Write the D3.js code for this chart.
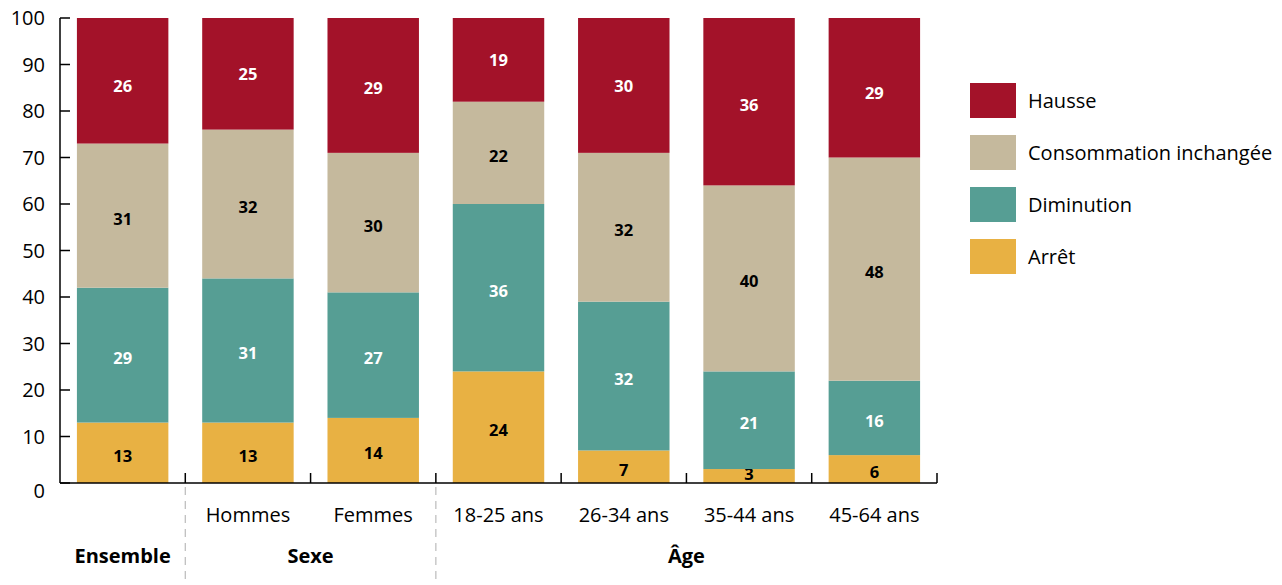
<!DOCTYPE html>
<html><head><meta charset="utf-8">
<script src="https://cdn.jsdelivr.net/npm/d3@7"></script>
<style>body{margin:0;background:#fff}svg{display:block}</style>
</head><body>
<svg id="c" width="1282" height="585"></svg>
<script>
const categories = ["Ensemble","Hommes","Femmes","18-25 ans","26-34 ans","35-44 ans","45-64 ans"];
const catLabels = ["","Hommes","Femmes","18-25 ans","26-34 ans","35-44 ans","45-64 ans"];
const groups = [{name:"Ensemble",from:0,to:0},{name:"Sexe",from:1,to:2},{name:"Âge",from:3,to:6}];
const seriesNames = ["Arrêt","Diminution","Consommation inchangée","Hausse"];
const arret = [13,13,14,24,7,3,6];
const diminution = [29,31,27,36,32,21,16];
const inchangee = [31,32,30,22,32,40,48];
const hausse = [26,25,29,19,30,36,29];
const yTicks = [0,10,20,30,40,50,60,70,80,90,100];
const colors = ["#E8B143","#569E94","#C5B99D","#A31229"];
const labelColors = ["#000","#fff","#000","#fff"];

const font = "'Open Sans', Lato, sans-serif";
const fs = 20;
const svg = d3.select("#c");
const x0 = 60, x1 = 937, yB = 483, yT = 18;
const x = d3.scaleBand().domain(categories).range([x0,x1]).paddingInner(0.27).paddingOuter(0.135);
const y = d3.scaleLinear().domain([0,100]).range([yB,yT]);

const rows = categories.map((c,i)=>({cat:c,"Arrêt":arret[i],"Diminution":diminution[i],"Consommation inchangée":inchangee[i],"Hausse":hausse[i]}));
const stack = d3.stack().keys(seriesNames)(rows);

stack.forEach((s,si)=>{
  const g = svg.append("g");
  s.forEach((d,i)=>{
    const top = si===seriesNames.length-1 ? 100 : d[1];
    g.append("rect").attr("x",x(categories[i])).attr("width",x.bandwidth())
      .attr("y",y(top)).attr("height",y(d[0])-y(top)).attr("fill",colors[si]);
    const ly = Math.min((y(d[0])+y(d[1]))/2+3, y(0)-9);
    g.append("text").attr("x",x(categories[i])+x.bandwidth()/2)
      .attr("y",ly).attr("dy","0.36em")
      .attr("text-anchor","middle").attr("font-family",font).attr("font-weight","bold")
      .attr("font-size",16.5).attr("fill",labelColors[si]).text(d.data[seriesNames[si]]);
  });
});

// y axis
const ya = svg.append("g");
ya.append("line").attr("x1",x0).attr("x2",x0).attr("y1",yT).attr("y2",yB).attr("stroke","#000").attr("stroke-width",1.5);
yTicks.forEach(t=>{
  ya.append("line").attr("x1",x0).attr("x2",x0+10).attr("y1",y(t)).attr("y2",y(t)).attr("stroke","#000").attr("stroke-width",1.5);
  ya.append("text").attr("x",45).attr("y",y(t)+(t===0?8:0)).attr("dy","0.35em").attr("text-anchor","end")
    .attr("font-family",font).attr("font-size",fs).attr("fill","#000").text(t);
});
// x axis
const xa = svg.append("g");
xa.append("line").attr("x1",x0).attr("x2",x1).attr("y1",yB).attr("y2",yB).attr("stroke","#000").attr("stroke-width",1.5);
categories.forEach((c,i)=>{
  const bx = x(c)+x.bandwidth()+x.step()*x.paddingInner()/2;
  xa.append("line").attr("x1",bx).attr("x2",bx).attr("y1",yB).attr("y2",yB-10).attr("stroke","#000").attr("stroke-width",1.5);
  xa.append("text").attr("x",x(c)+x.bandwidth()/2).attr("y",515).attr("dy","0.35em").attr("text-anchor","middle")
    .attr("font-family",font).attr("font-size",fs).attr("fill","#000").text(catLabels[i]);
});
groups.forEach((g,gi)=>{
  const a = x(categories[g.from]), b = x(categories[g.to])+x.bandwidth();
  xa.append("text").attr("x",(a+b)/2).attr("y",556).attr("dy","0.35em").attr("text-anchor","middle")
    .attr("font-family",font).attr("font-weight","bold").attr("font-size",fs).attr("fill","#000").text(g.name);
  if(gi<groups.length-1){
    const sx = b + x.step()*x.paddingInner()/2;
    xa.append("line").attr("x1",sx).attr("x2",sx).attr("y1",487).attr("y2",585)
      .attr("stroke","#bbb").attr("stroke-width",1.2).attr("stroke-dasharray","8,6");
  }
});

// legend
const legOrder = ["Hausse","Consommation inchangée","Diminution","Arrêt"];
legOrder.forEach((n,i)=>{
  const si = seriesNames.indexOf(n);
  const ly = 83 + i*52;
  svg.append("rect").attr("x",970).attr("y",ly).attr("width",46).attr("height",35).attr("fill",colors[si]);
  svg.append("text").attr("x",1028).attr("y",ly+17.5).attr("dy","0.35em").attr("font-family",font)
    .attr("font-size",fs).attr("fill","#000").text(n);
});
</script>
</body></html>
